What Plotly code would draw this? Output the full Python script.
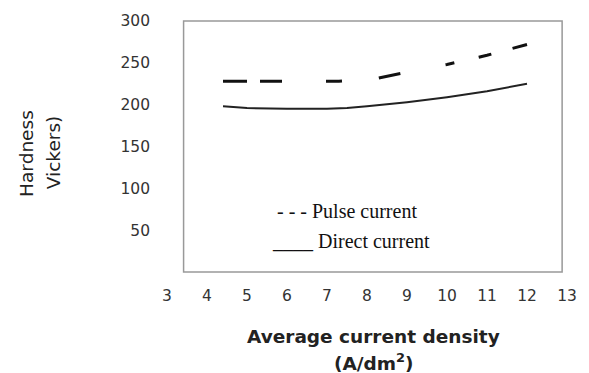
import plotly.graph_objects as go

# ---- data ----
x_ticks = [3, 4, 5, 6, 7, 8, 9, 10, 11, 12, 13]
y_ticks = [50, 100, 150, 200, 250, 300]
pulse_x = [4.4, 7.3, 8.2, 9, 10, 11, 12]
pulse_y = [228, 228, 231, 239, 248, 259, 272]
direct_x = [4.4, 5, 6, 7, 7.5, 8, 9, 10, 11, 12]
direct_y = [198, 196, 195, 195, 196, 198, 203, 209, 216, 225]

# ---- layout geometry ----
W, H = 589, 373
L, R, T, B = 167, 12, 16, 101
PW = W - L - R
PH = H - T - B


def px(xp):
    return (xp - L) / PW


def py(yp):
    return (H - B - yp) / PH


fig = go.Figure()
fig.add_trace(go.Scatter(
    x=pulse_x, y=pulse_y, mode="lines", name="Pulse current",
    line=dict(color="#111111", width=3,
              dash="24px,13px,22px,44px,16px,37px,22px,46px,9px,25px,13px,22px,16px"),
    hoverinfo="skip"))
fig.add_trace(go.Scatter(
    x=direct_x, y=direct_y, mode="lines", name="Direct current",
    line=dict(color="#222222", width=2), hoverinfo="skip"))

tick_font = dict(family="DejaVu Sans", size=15.5, color="#333333")

fig.update_layout(
    width=W, height=H,
    margin=dict(l=L, r=R, t=T, b=B, pad=0),
    paper_bgcolor="white", plot_bgcolor="white",
    showlegend=False,
    xaxis=dict(range=[3, 13], tickmode="array", tickvals=x_ticks,
               ticktext=[str(v) for v in x_ticks], showgrid=False,
               zeroline=False, showline=False, ticks="",
               ticklabelstandoff=12, tickfont=tick_font, fixedrange=True),
    yaxis=dict(range=[0, 300], tickmode="array", tickvals=y_ticks,
               ticktext=[str(v) for v in y_ticks], showgrid=False,
               zeroline=False, showline=False, ticks="",
               ticklabelstandoff=16, tickfont=tick_font, fixedrange=True),
    shapes=[dict(type="rect", xref="paper", yref="paper",
                 x0=px(184), x1=px(572), y0=0, y1=1,
                 line=dict(color="#999999", width=1.5), layer="above")],
)

ann = []
ann.append(dict(text="Hardness", x=px(23), y=py(151), textangle=-90,
                font=dict(family="DejaVu Sans", size=18.5, color="#222222")))
ann.append(dict(text="Vickers)", x=px(51), y=py(150), textangle=-90,
                font=dict(family="DejaVu Sans", size=18.5, color="#222222")))
ann.append(dict(text="- - - Pulse current", x=px(278), y=py(210), xanchor="left",
                font=dict(family="Liberation Serif", size=20, color="#111111")))
ann.append(dict(text="____ Direct current", x=px(273), y=py(240), xanchor="left",
                font=dict(family="Liberation Serif", size=20, color="#111111")))
ann.append(dict(text="<b>Average current density</b>", x=px(379), y=py(338),
                font=dict(family="DejaVu Sans", size=18.5, color="#222222")))
ann.append(dict(text="<b>(A/dm<sup>2</sup>)</b>", x=px(379), y=py(364),
                font=dict(family="DejaVu Sans", size=18.5, color="#222222")))
for a in ann:
    a.update(xref="paper", yref="paper", showarrow=False)
    a.setdefault("xanchor", "center")
    a.setdefault("yanchor", "middle")
fig.update_layout(annotations=ann)

fig.write_html("out.html", config={"displayModeBar": False})
